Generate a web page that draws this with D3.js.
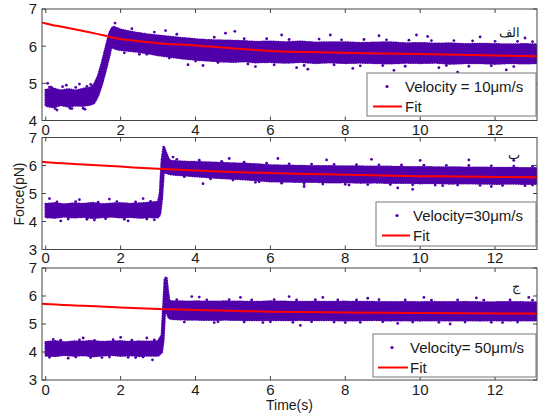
<!DOCTYPE html>
<html><head><meta charset="utf-8">
<script src="https://cdn.jsdelivr.net/npm/d3@7"></script>
<style>body{margin:0;background:#fff}text{font-family:"Liberation Sans",Arial,sans-serif}</style>
</head><body><svg id="c" width="538" height="416"></svg>
<script>
// ---------- DATA ----------
const xTicks = [0,2,4,6,8,10,12];
const yTicksA = [4,5,6,7];
const yTicksB = [3,4,5,6,7];
const yTicksC = [3,4,5,6,7];
const legendLabels = ["Velocity = 10\u03bcm/s","Velocity=30\u03bcm/s","Velocity= 50\u03bcm/s"];
const fitLabel = "Fit";
const panelTags = ["\u0627\u0644\u0641","\u0628","\u062c"];

// dense data band (time, lower edge, upper edge)
const bandA_t  = [0,0.2,0.4,0.6,0.8,1.0,1.2,1.3,1.4,1.5,1.6,1.7,1.75,1.8,1.9,2.0,2.2,2.4,2.6,2.8,3.0,3.3,3.6,4.0,4.3,4.6,5.0,5.3,5.6,6.0,6.4,6.8,7.2,7.6,8.0,8.4,8.8,9.2,9.6,10.0,10.4,10.8,11.2,11.6,12.0,12.4,12.8,13.12];
const bandA_lo = [4.40,4.36,4.42,4.38,4.41,4.40,4.43,4.48,4.68,4.98,5.35,5.75,5.98,5.96,5.92,5.90,5.88,5.86,5.83,5.80,5.76,5.72,5.68,5.64,5.62,5.60,5.58,5.60,5.57,5.58,5.56,5.58,5.55,5.57,5.55,5.56,5.55,5.54,5.56,5.55,5.56,5.53,5.55,5.55,5.53,5.55,5.54,5.55];
const bandA_hi = [4.82,4.86,4.80,4.84,4.80,4.85,4.88,4.98,5.20,5.55,5.95,6.35,6.45,6.52,6.48,6.44,6.40,6.36,6.33,6.30,6.28,6.25,6.22,6.18,6.16,6.15,6.14,6.13,6.11,6.12,6.10,6.12,6.09,6.10,6.10,6.08,6.09,6.10,6.07,6.08,6.06,6.07,6.05,6.06,6.05,6.04,6.05,6.04];

const bandB_t  = [0,0.25,0.5,0.75,1,1.25,1.5,1.75,2,2.25,2.5,2.75,3.0,3.05,3.1,3.15,3.2,3.26,3.3,3.4,3.6,3.8,4.0,4.4,4.8,5.2,5.6,6.0,6.4,6.8,7.2,7.6,8.0,8.4,8.8,9.2,9.6,10.0,10.4,10.8,11.2,11.6,12.0,12.4,12.8,13.12];
const bandB_lo = [4.16,4.14,4.18,4.15,4.17,4.13,4.16,4.18,4.15,4.17,4.14,4.16,4.15,4.25,4.80,5.80,5.75,5.72,5.70,5.68,5.66,5.64,5.62,5.58,5.55,5.52,5.48,5.44,5.43,5.42,5.42,5.40,5.41,5.39,5.40,5.38,5.39,5.37,5.38,5.36,5.37,5.36,5.35,5.36,5.35,5.35];
const bandB_hi = [4.62,4.65,4.60,4.64,4.62,4.66,4.61,4.63,4.65,4.62,4.64,4.66,4.70,5.00,6.20,6.68,6.50,6.30,6.18,6.15,6.14,6.12,6.12,6.10,6.08,6.06,6.04,6.00,5.99,5.98,5.97,5.97,5.96,5.96,5.95,5.95,5.94,5.94,5.93,5.93,5.92,5.92,5.91,5.91,5.90,5.90];

const bandC_t  = [0,0.25,0.5,0.75,1,1.25,1.5,1.75,2,2.25,2.5,2.75,3.0,3.1,3.14,3.18,3.22,3.26,3.3,3.4,3.6,3.8,4.0,4.4,4.8,5.2,5.6,6.0,6.4,6.8,7.2,7.6,8.0,8.4,8.8,9.2,9.6,10.0,10.4,10.8,11.2,11.6,12.0,12.4,12.8,13.12];
const bandC_lo = [3.88,3.86,3.90,3.87,3.89,3.85,3.88,3.90,3.87,3.89,3.86,3.88,3.87,4.00,4.40,5.40,5.50,5.30,5.20,5.18,5.17,5.16,5.16,5.15,5.16,5.15,5.14,5.15,5.14,5.15,5.14,5.15,5.13,5.14,5.15,5.13,5.14,5.13,5.14,5.13,5.14,5.13,5.14,5.13,5.14,5.13];
const bandC_hi = [4.35,4.38,4.34,4.37,4.36,4.39,4.35,4.37,4.38,4.35,4.37,4.36,4.38,4.60,5.60,6.60,6.68,6.20,5.82,5.80,5.80,5.79,5.80,5.79,5.80,5.79,5.78,5.80,5.79,5.78,5.79,5.78,5.79,5.78,5.78,5.77,5.78,5.77,5.78,5.77,5.78,5.77,5.77,5.78,5.77,5.77];

// scattered points outside / at the edge of the dense band
const outA_t = [0.05,0.15,0.3,0.55,0.7,0.9,1.05,1.2,1.85,2.1,2.5,3.2,3.8,4.2,4.8,5.05,5.6,6.3,6.7,7.0,7.6,8.2,8.9,9.3,9.9,10.2,10.5,11.0,11.6,12.3,12.8,
  0.1,0.45,0.8,1.1,0.25,0.65,1.0,
  2.3,2.9,3.5,4.5,5.3,5.9,6.5,7.3,7.9,8.5,9.1,9.7,10.3,10.9,11.4,12.0,12.6,13.0,
  2.7,3.3,4.0,4.6,5.4,6.1,6.9,7.7,8.4,9.0,9.6,10.7,11.3,11.9,12.5];
const outA_v = [5.00,4.90,4.28,4.95,4.32,4.98,4.30,4.97,6.62,5.82,5.78,6.42,5.50,5.48,6.35,6.40,5.45,6.30,5.42,5.38,6.30,5.40,6.28,5.35,6.30,6.26,5.42,5.30,6.25,5.36,6.22,
  4.90,4.91,4.89,4.92,4.32,4.33,4.33,
  6.47,6.38,6.32,6.24,6.20,6.20,6.18,6.19,6.17,6.18,6.17,6.16,6.15,6.15,6.14,6.13,6.13,6.12,
  5.78,5.68,5.60,5.56,5.52,5.50,5.48,5.50,5.47,5.48,5.46,5.48,5.46,5.47,5.45];
const outB_t = [0.1,0.4,0.9,1.3,1.7,2.2,2.6,2.9,3.4,4.2,4.9,5.6,6.2,6.9,7.5,8.1,8.7,9.4,9.8,10.0,10.6,11.3,11.9,12.5,13.0,
  0.3,0.8,1.4,1.9,2.4,2.8,0.6,1.1,1.6,2.1,2.7,
  3.5,4.1,4.7,5.3,5.9,6.5,7.1,7.7,8.3,8.9,9.5,10.1,10.7,11.3,11.9,12.5,13.0,
  3.7,4.4,5.0,5.7,6.3,6.9,7.4,8.0,8.6,9.2,9.8,10.4,11.0,11.6,12.2,12.8];
const outB_v = [4.82,4.02,4.78,4.05,4.80,4.02,4.82,4.06,6.30,5.35,6.25,5.40,6.25,5.25,6.20,5.30,6.22,5.20,5.15,6.18,5.28,6.20,5.25,6.18,5.30,
  4.70,4.71,4.69,4.71,4.70,4.72,4.09,4.08,4.10,4.08,4.09,
  6.22,6.19,6.15,6.12,6.08,6.06,6.05,6.04,6.03,6.02,6.02,6.01,6.00,6.00,5.99,5.98,5.97,
  5.60,5.52,5.48,5.42,5.37,5.35,5.34,5.33,5.32,5.32,5.31,5.30,5.30,5.29,5.29,5.28];
const outC_t = [0.2,0.6,1.0,1.5,2.0,2.4,2.7,2.85,3.9,4.1,4.5,5.2,5.8,6.5,6.8,7.4,8.0,8.6,9.4,10.1,10.8,11.5,12.2,12.9,
  0.4,0.9,1.3,1.8,2.3,2.9,0.1,0.8,1.2,1.7,2.2,2.6,
  3.5,4.3,4.9,5.5,6.1,6.7,7.2,7.8,8.3,8.9,9.6,10.3,11.0,11.7,12.4,13.0,
  3.7,4.6,5.3,6.0,6.6,7.1,7.7,8.4,9.0,9.8,10.5,11.2,11.9,12.6];
const outC_v = [4.45,3.78,4.50,3.80,4.52,3.80,4.50,3.72,5.98,5.96,5.05,5.95,5.05,5.98,4.95,5.95,5.05,5.92,5.02,5.95,5.00,5.93,5.05,5.95,
  4.42,4.43,4.41,4.44,4.42,4.43,3.81,3.82,3.80,3.82,3.81,3.82,
  5.87,5.86,5.87,5.86,5.87,5.86,5.87,5.86,5.86,5.87,5.86,5.85,5.86,5.85,5.86,5.85,
  5.07,5.08,5.07,5.08,5.06,5.08,5.07,5.06,5.08,5.07,5.06,5.07,5.06,5.07];

// fitted curves
const fitA_t = [-0.1,0,0.5,1,1.5,2,2.5,3,4,5,6,7,8,9,10,11,12,13.12];
const fitA_v = [6.64,6.61,6.51,6.41,6.30,6.19,6.13,6.08,6.02,5.94,5.87,5.84,5.82,5.80,5.79,5.77,5.75,5.73];
const fitB_t = [-0.1,0,1,2,3,4,5,6,7,8,9,10,11,12,13.12];
const fitB_v = [6.13,6.12,6.04,5.96,5.88,5.82,5.77,5.73,5.70,5.67,5.64,5.62,5.61,5.59,5.58];
const fitC_t = [-0.1,0,1,2,3,4,5,6,8,10,13.12];
const fitC_v = [5.72,5.71,5.65,5.59,5.54,5.50,5.47,5.44,5.41,5.39,5.37];

// ---------- LAYOUT ----------
const purple = "#5000aa", red = "#ff0000", axisCol = "#444", txtCol = "#1a1a1a";
const panels = [
  {top:9, bottom:120.5, yd:[4,7], yt:yTicksA, bt:bandA_t, lo:bandA_lo, hi:bandA_hi, ot:outA_t, ov:outA_v, ft:fitA_t, fv:fitA_v,
   lab:14.5, leg:{x:367,y:73,w:169,h:43,mk:387,l0:373,l1:402,tx:405}, tagY:37},
  {top:137.5, bottom:249.5, yd:[3,7], yt:yTicksB, bt:bandB_t, lo:bandB_lo, hi:bandB_hi, ot:outB_t, ov:outB_v, ft:fitB_t, fv:fitB_v,
   lab:13.5, leg:{x:376,y:202,w:160,h:44,mk:397,l0:382,l1:410,tx:413}, tagY:159},
  {top:268, bottom:380, yd:[3,7], yt:yTicksC, bt:bandC_t, lo:bandC_lo, hi:bandC_hi, ot:outC_t, ov:outC_v, ft:fitC_t, fv:fitC_v,
   lab:15, leg:{x:373,y:334,w:163,h:43,mk:392,l0:378,l1:408,tx:410}, tagY:291}
];
const L = 42, R = 537;
const x = d3.scaleLinear().domain([-0.1,13.12]).range([L,R]);
const svg = d3.select("#c");

panels.forEach((p,i)=>{
  const y = d3.scaleLinear().domain(p.yd).range([p.bottom,p.top]);
  const g = svg.append("g");
  const cid = "clip"+i;
  svg.append("clipPath").attr("id",cid).append("rect")
    .attr("x",L).attr("y",p.top).attr("width",R-L).attr("height",p.bottom-p.top);
  const plot = g.append("g").attr("clip-path",`url(#${cid})`);

  const band = p.bt.map((t,k)=>({t, lo:p.lo[k], hi:p.hi[k]}));
  const area = d3.area().x(d=>x(d.t)).y0(d=>y(d.lo)).y1(d=>y(d.hi));
  plot.append("path").datum(band).attr("d",area)
    .attr("fill",purple).attr("stroke",purple).attr("stroke-width",2.6)
    .attr("stroke-dasharray","0.1 2.3").attr("stroke-linecap","round").attr("stroke-linejoin","round");

  const outs = p.ot.map((t,k)=>({t,v:p.ov[k]}));
  plot.selectAll("circle.o").data(outs).join("circle")
    .attr("cx",d=>x(d.t)).attr("cy",d=>y(d.v)).attr("r",1.4).attr("fill",purple);

  const fit = p.ft.map((t,k)=>({t,v:p.fv[k]}));
  plot.append("path").datum(fit)
    .attr("d",d3.line().x(d=>x(d.t)).y(d=>y(d.v)).curve(d3.curveMonotoneX))
    .attr("fill","none").attr("stroke",red).attr("stroke-width",2);

  // frame
  g.append("rect").attr("x",L).attr("y",p.top).attr("width",R-L).attr("height",p.bottom-p.top)
    .attr("fill","none").attr("stroke",axisCol).attr("stroke-width",1);

  // inward ticks, all sides
  const tk = 4;
  xTicks.forEach(t=>{
    g.append("line").attr("x1",x(t)).attr("x2",x(t)).attr("y1",p.bottom).attr("y2",p.bottom-tk).attr("stroke",axisCol);
    g.append("line").attr("x1",x(t)).attr("x2",x(t)).attr("y1",p.top).attr("y2",p.top+tk).attr("stroke",axisCol);
    g.append("text").attr("x",x(t)).attr("y",p.bottom+p.lab).attr("text-anchor","middle")
      .attr("font-size",15).attr("fill",txtCol).text(t);
  });
  p.yt.forEach(v=>{
    g.append("line").attr("x1",L).attr("x2",L+tk).attr("y1",y(v)).attr("y2",y(v)).attr("stroke",axisCol);
    g.append("line").attr("x1",R).attr("x2",R-tk).attr("y1",y(v)).attr("y2",y(v)).attr("stroke",axisCol);
    g.append("text").attr("x",37).attr("y",y(v)).attr("dy","0.36em").attr("text-anchor","end")
      .attr("font-size",15).attr("fill",txtCol).text(v);
  });

  // panel tag
  g.append("text").attr("x",520).attr("y",p.tagY).attr("text-anchor","end")
    .attr("font-family","DejaVu Sans").attr("font-size",13).attr("fill",txtCol).text(panelTags[i]);

  // legend
  const lg = p.leg;
  g.append("rect").attr("x",lg.x).attr("y",lg.y).attr("width",lg.w).attr("height",lg.h)
    .attr("fill","#fff").attr("stroke","#777").attr("stroke-width",1);
  const r1 = lg.y+13.5, r2 = lg.y+33.5;
  g.append("circle").attr("cx",lg.mk).attr("cy",r1).attr("r",1.6).attr("fill",purple);
  g.append("text").attr("x",lg.tx).attr("y",r1).attr("dy","0.36em").attr("font-size",15).attr("fill",txtCol).text(legendLabels[i]);
  g.append("line").attr("x1",lg.l0).attr("x2",lg.l1).attr("y1",r2).attr("y2",r2).attr("stroke",red).attr("stroke-width",2);
  g.append("text").attr("x",lg.tx).attr("y",r2).attr("dy","0.36em").attr("font-size",15).attr("fill",txtCol).text(fitLabel);
});

svg.append("text").attr("transform","translate(19,194) rotate(-90)").attr("text-anchor","middle")
  .attr("dy","0.36em").attr("font-size",14).attr("fill",txtCol).text("Force(pN)");
svg.append("text").attr("x",289.5).attr("y",410).attr("text-anchor","middle")
  .attr("font-size",14).attr("fill",txtCol).text("Time(s)");
</script></body></html>
